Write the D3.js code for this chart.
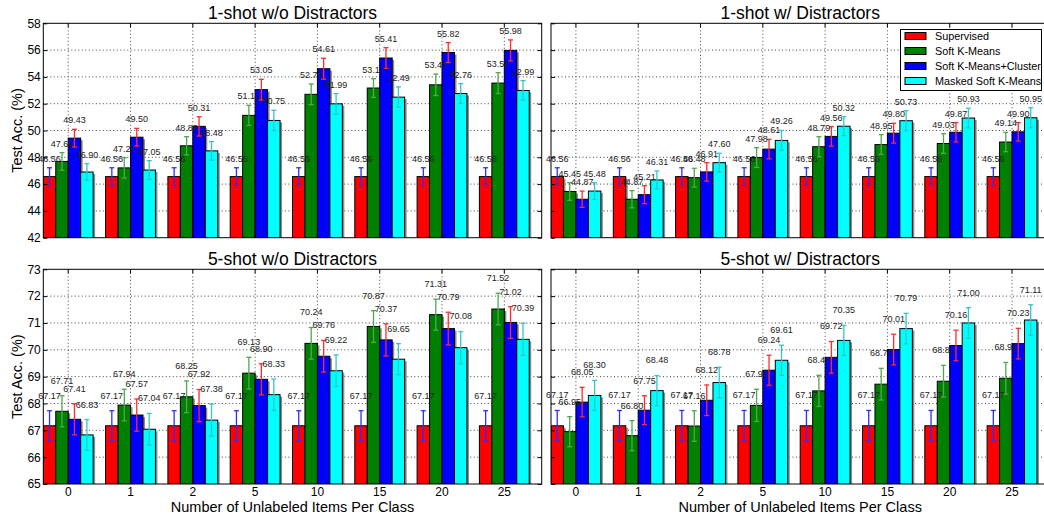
<!DOCTYPE html>
<html>
<head>
<meta charset="utf-8">
<script src="https://cdn.jsdelivr.net/npm/d3@7"></script>
<style>
  html, body { margin: 0; padding: 0; background: #fff; }
  svg { display: block; font-family: "Liberation Sans", Arial, sans-serif; }
</style>
</head>
<body>
<svg id="chart" width="1044" height="521"></svg>
<script>
// Categories: number of unlabeled items per class
const categories = ["0", "1", "2", "5", "10", "15", "20", "25"];
const seriesNames = ["Supervised", "Soft K-Means", "Soft K-Means+Cluster", "Masked Soft K-Means"];

// 1-shot w/o distractors
const oneShotNoDistSupervised = [46.56, 46.56, 46.56, 46.56, 46.56, 46.56, 46.56, 46.56];
const oneShotNoDistSoftKMeans = [47.69, 47.21, 48.86, 51.13, 52.70, 53.17, 53.41, 53.54];
const oneShotNoDistCluster    = [49.43, 49.50, 50.31, 53.05, 54.61, 55.41, 55.82, 55.98];
const oneShotNoDistMasked     = [46.90, 47.05, 48.48, 50.75, 51.99, 52.49, 52.76, 52.99];
const oneShotNoDistSupervisedErr = [0.66, 0.66, 0.66, 0.66, 0.66, 0.66, 0.66, 0.66];
const oneShotNoDistSoftKMeansErr = [0.66, 0.76, 0.68, 0.75, 0.77, 0.70, 0.80, 0.78];
const oneShotNoDistClusterErr    = [0.66, 0.66, 0.72, 0.77, 0.78, 0.77, 0.74, 0.78];
const oneShotNoDistMaskedErr     = [0.62, 0.70, 0.69, 0.76, 0.76, 0.76, 0.74, 0.73];

// 1-shot w/ distractors
const oneShotDistSupervised = [46.56, 46.56, 46.56, 46.56, 46.56, 46.56, 46.56, 46.56];
const oneShotDistSoftKMeans = [45.45, 44.87, 46.48, 47.98, 48.79, 48.95, 49.03, 49.14];
const oneShotDistCluster    = [44.87, 45.21, 46.91, 48.61, 49.56, 49.80, 49.87, 49.90];
const oneShotDistMasked     = [45.48, 46.31, 47.60, 49.26, 50.32, 50.73, 50.93, 50.95];
const oneShotDistSupervisedErr = [0.66, 0.66, 0.66, 0.66, 0.66, 0.66, 0.66, 0.66];
const oneShotDistSoftKMeansErr = [0.66, 0.64, 0.70, 0.74, 0.75, 0.74, 0.73, 0.72];
const oneShotDistClusterErr    = [0.61, 0.67, 0.69, 0.73, 0.73, 0.74, 0.72, 0.69];
const oneShotDistMaskedErr     = [0.63, 0.67, 0.70, 0.75, 0.71, 0.75, 0.73, 0.75];

// 5-shot w/o distractors
const fiveShotNoDistSupervised = [67.17, 67.17, 67.17, 67.17, 67.17, 67.17, 67.17, 67.17];
const fiveShotNoDistSoftKMeans = [67.71, 67.94, 68.25, 69.13, 70.24, 70.87, 71.31, 71.52];
const fiveShotNoDistCluster    = [67.41, 67.57, 67.92, 68.90, 69.76, 70.37, 70.79, 71.02];
const fiveShotNoDistMasked     = [66.83, 67.04, 67.38, 68.33, 69.22, 69.65, 70.08, 70.39];
const fiveShotNoDistSupervisedErr = [0.56, 0.56, 0.56, 0.56, 0.56, 0.56, 0.56, 0.56];
const fiveShotNoDistSoftKMeansErr = [0.58, 0.59, 0.59, 0.59, 0.59, 0.59, 0.58, 0.59];
const fiveShotNoDistClusterErr    = [0.58, 0.60, 0.60, 0.58, 0.59, 0.60, 0.61, 0.59];
const fiveShotNoDistMaskedErr     = [0.57, 0.59, 0.60, 0.58, 0.59, 0.58, 0.60, 0.60];

// 5-shot w/ distractors
const fiveShotDistSupervised = [67.17, 67.17, 67.17, 67.17, 67.17, 67.17, 67.17, 67.17];
const fiveShotDistSoftKMeans = [66.95, 66.80, 67.16, 67.93, 68.47, 68.72, 68.83, 68.94];
const fiveShotDistCluster    = [68.05, 67.75, 68.12, 69.24, 69.72, 70.01, 70.16, 70.23];
const fiveShotDistMasked     = [68.30, 68.48, 68.78, 69.61, 70.35, 70.79, 71.00, 71.11];
const fiveShotDistSupervisedErr = [0.57, 0.57, 0.57, 0.57, 0.57, 0.57, 0.57, 0.57];
const fiveShotDistSoftKMeansErr = [0.56, 0.56, 0.57, 0.60, 0.58, 0.59, 0.59, 0.59];
const fiveShotDistClusterErr    = [0.55, 0.54, 0.57, 0.56, 0.59, 0.57, 0.57, 0.57];
const fiveShotDistMaskedErr     = [0.56, 0.56, 0.57, 0.56, 0.56, 0.57, 0.57, 0.57];

// Y ticks for the two rows
const oneShotTicks = [42, 44, 46, 48, 50, 52, 54, 56, 58];
const fiveShotTicks = [65, 66, 67, 68, 69, 70, 71, 72, 73];

const barColors = ["#ff0000", "#008000", "#0000ff", "#00ffff"];
const errColors = ["#2e2eff", "#4fa84f", "#ff2b2b", "#35c6c6"];

const panels = [
  { title: "1-shot w/o Distractors", col: 0, row: 0, domain: [42, 58], ticks: oneShotTicks,
    values: [oneShotNoDistSupervised, oneShotNoDistSoftKMeans, oneShotNoDistCluster, oneShotNoDistMasked],
    errs: [oneShotNoDistSupervisedErr, oneShotNoDistSoftKMeansErr, oneShotNoDistClusterErr, oneShotNoDistMaskedErr] },
  { title: "1-shot w/ Distractors", col: 1, row: 0, domain: [42, 58], ticks: oneShotTicks,
    values: [oneShotDistSupervised, oneShotDistSoftKMeans, oneShotDistCluster, oneShotDistMasked],
    errs: [oneShotDistSupervisedErr, oneShotDistSoftKMeansErr, oneShotDistClusterErr, oneShotDistMaskedErr] },
  { title: "5-shot w/o Distractors", col: 0, row: 1, domain: [65, 73], ticks: fiveShotTicks,
    values: [fiveShotNoDistSupervised, fiveShotNoDistSoftKMeans, fiveShotNoDistCluster, fiveShotNoDistMasked],
    errs: [fiveShotNoDistSupervisedErr, fiveShotNoDistSoftKMeansErr, fiveShotNoDistClusterErr, fiveShotNoDistMaskedErr] },
  { title: "5-shot w/ Distractors", col: 1, row: 1, domain: [65, 73], ticks: fiveShotTicks,
    values: [fiveShotDistSupervised, fiveShotDistSoftKMeans, fiveShotDistCluster, fiveShotDistMasked],
    errs: [fiveShotDistSupervisedErr, fiveShotDistSoftKMeansErr, fiveShotDistClusterErr, fiveShotDistMaskedErr] }
];

// Layout of the 2x2 grid of axes
const colX = [43.3, 551];
const panelW = 498.4;
const rowY = [[23.3, 237.7], [269.3, 484]];

const svg = d3.select("#chart");
const defs = svg.append("defs");

panels.forEach((p, pi) => {
  const x0 = colX[p.col], x1 = x0 + panelW;
  const [y0, y1] = rowY[p.row];

  const x = d3.scaleBand().domain(categories).range([x0, x1])
    .paddingInner(0.2).paddingOuter(0.1).align(0);
  const xs = d3.scaleBand().domain(seriesNames).range([0, x.bandwidth()]).padding(0);
  const y = d3.scaleLinear().domain(p.domain).range([y1, y0]);

  const clipId = "clip" + pi;
  defs.append("clipPath").attr("id", clipId)
    .append("rect").attr("x", x0).attr("y", y0).attr("width", x1 - x0).attr("height", y1 - y0);

  const g = svg.append("g");

  // dotted grid
  const grid = g.append("g").attr("clip-path", `url(#${clipId})`);
  grid.selectAll("line.h").data(p.ticks.slice(1, -1)).join("line")
    .attr("x1", x0).attr("x2", x1).attr("y1", d => y(d)).attr("y2", d => y(d))
    .attr("stroke", "#444").attr("stroke-width", 1).attr("stroke-dasharray", "1,2.5");
  grid.selectAll("line.v").data(categories).join("line")
    .attr("x1", d => x(d) + x.bandwidth() / 2).attr("x2", d => x(d) + x.bandwidth() / 2)
    .attr("y1", y0).attr("y2", y1)
    .attr("stroke", "#444").attr("stroke-width", 1).attr("stroke-dasharray", "1,2.5");

  // bars and error bars, series by series; value labels go on top afterwards
  const plot = g.append("g");
  const labelLayer = g.append("g");
  seriesNames.forEach((s, si) => {
    const rows = categories.map((c, ci) => ({ c, v: p.values[si][ci], e: p.errs[si][ci] }));
    const layer = plot.append("g");
    const clipped = layer.append("g").attr("clip-path", `url(#${clipId})`);
    const bx = d => x(d.c) + xs(s);
    // soft shadow on each bar
    clipped.selectAll("rect.shadow").data(rows).join("rect")
      .attr("x", d => bx(d) + 2).attr("y", d => y(d.v) + 2)
      .attr("width", xs.bandwidth()).attr("height", d => y1 - y(d.v))
      .attr("fill", "#8a8a8a");
    clipped.selectAll("rect.bar").data(rows).join("rect")
      .attr("x", d => bx(d)).attr("y", d => y(d.v))
      .attr("width", xs.bandwidth()).attr("height", d => y1 - y(d.v) + 2)
      .attr("fill", barColors[si]).attr("stroke", "#000").attr("stroke-width", 1);
    // error bars
    const eb = layer.append("g").attr("stroke", errColors[si]).attr("stroke-width", 1.3);
    rows.forEach(d => {
      const cx = bx(d) + xs.bandwidth() / 2;
      eb.append("line").attr("x1", cx).attr("x2", cx).attr("y1", y(d.v - d.e)).attr("y2", y(d.v + d.e));
      eb.append("line").attr("x1", cx - 2.5).attr("x2", cx + 2.5).attr("y1", y(d.v + d.e)).attr("y2", y(d.v + d.e));
      eb.append("line").attr("x1", cx - 2.5).attr("x2", cx + 2.5).attr("y1", y(d.v - d.e)).attr("y2", y(d.v - d.e));
    });
    labelLayer.append("g").selectAll("text").data(rows).join("text")
      .attr("x", d => bx(d) + xs.bandwidth() / 2)
      .attr("y", d => y(d.v + d.e + 0.45))
      .attr("text-anchor", "middle").attr("font-size", 9).attr("fill", "#222")
      .text(d => d.v.toFixed(2));
  });
  labelLayer.raise();

  // frame
  g.append("rect").attr("x", x0).attr("y", y0).attr("width", x1 - x0).attr("height", y1 - y0)
    .attr("fill", "none").attr("stroke", "#000").attr("stroke-width", 1);

  // axes with inward ticks on all four sides
  const left = d3.axisLeft(y).tickValues(p.ticks).tickSize(-4).tickPadding(2.5)
    .tickFormat(p.col === 0 ? d3.format("d") : () => "");
  const right = d3.axisRight(y).tickValues(p.ticks).tickSize(-4).tickFormat(() => "");
  const bottom = d3.axisBottom(x).tickSize(-4).tickPadding(3)
    .tickFormat(p.row === 1 ? (d => d) : () => "");
  const top = d3.axisTop(x).tickSize(-4).tickFormat(() => "");

  const styleAxis = sel => {
    sel.select(".domain").remove();
    sel.selectAll(".tick line").attr("stroke", "#000");
    sel.selectAll(".tick text").attr("fill", "#000").attr("font-size", 12)
      .attr("font-family", "\"Liberation Sans\", Arial, sans-serif");
  };
  g.append("g").attr("transform", `translate(${x0},0)`).call(left).call(styleAxis);
  g.append("g").attr("transform", `translate(${x1},0)`).call(right).call(styleAxis);
  g.append("g").attr("transform", `translate(0,${y1})`).call(bottom).call(styleAxis);
  g.append("g").attr("transform", `translate(0,${y0})`).call(top).call(styleAxis);

  // title
  g.append("text").attr("x", (x0 + x1) / 2).attr("y", y0 - 4)
    .attr("text-anchor", "middle").attr("font-size", 17.5).attr("fill", "#000")
    .text(p.title);

  if (p.col === 0) {
    g.append("text")
      .attr("transform", `translate(22,${(y0 + y1) / 2}) rotate(-90)`)
      .attr("text-anchor", "middle").attr("font-size", 14.5).attr("fill", "#000")
      .text("Test Acc. (%)");
  }
  if (p.row === 1) {
    g.append("text").attr("x", (x0 + x1) / 2).attr("y", 512)
      .attr("text-anchor", "middle").attr("font-size", 14.5).attr("fill", "#000")
      .text("Number of Unlabeled Items Per Class");
  }
});

// legend in the upper right panel
const legend = svg.append("g");
legend.append("rect").attr("x", 900.5).attr("y", 29.5).attr("width", 141).attr("height", 61)
  .attr("fill", "#fff").attr("stroke", "#000").attr("stroke-width", 1);
seriesNames.forEach((s, i) => {
  legend.append("rect").attr("x", 905).attr("y", 32.5 + i * 15).attr("width", 21).attr("height", 7)
    .attr("fill", barColors[i]).attr("stroke", "#000").attr("stroke-width", 1);
  legend.append("text").attr("x", 935).attr("y", 39.5 + i * 15)
    .attr("font-size", 10.8).attr("fill", "#000").text(s);
});
</script>
</body>
</html>
